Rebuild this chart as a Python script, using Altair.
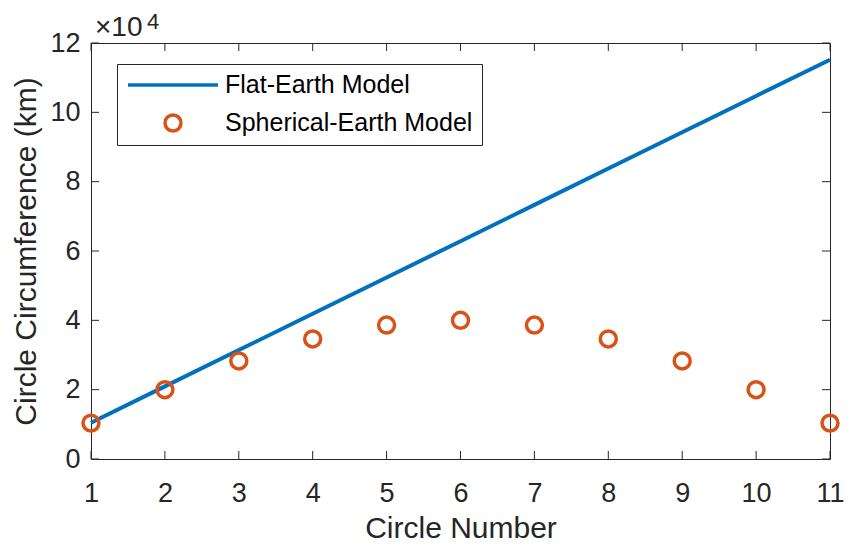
import altair as alt
import pandas as pd

# ---- data ----
circle_number = [1, 2, 3, 4, 5, 6, 7, 8, 9, 10, 11]
flat_km = [10470, 20940, 31420, 41890, 52360, 62830, 73300, 83780, 94250, 104720, 115190]
spherical_km = [10350, 20000, 28280, 34640, 38640, 40000, 38640, 34640, 28280, 20000, 10350]
x_ticks = [1, 2, 3, 4, 5, 6, 7, 8, 9, 10, 11]
y_ticks = [0, 20000, 40000, 60000, 80000, 100000, 120000]
series_names = ["Flat-Earth Model", "Spherical-Earth Model"]
series_colors = ["#0072BD", "#D95319"]
exponent_base = ["×10"]
exponent_power = ["4"]

W, H = 739, 416
AX = "#262626"
FONT = "Liberation Sans"

flat_df = pd.DataFrame({"n": circle_number, "c": flat_km, "series": series_names[0]})
sph_df = pd.DataFrame({"n": circle_number, "c": spherical_km, "series": series_names[1]})
xt_df = pd.DataFrame({"n": x_ticks})
yt_df = pd.DataFrame({"c": y_ticks})

xs = alt.Scale(domain=[1, 11], nice=False, zero=False)
ys = alt.Scale(domain=[0, 120000], nice=False, zero=False)

x_axis = alt.Axis(values=x_ticks, title="Circle Number", grid=False, ticks=False, tickSize=0,
                  domain=False, labelFlush=False, labelOverlap=False,
                  labelFont=FONT, labelFontSize=27, labelColor=AX, labelPadding=21,
                  titleFont=FONT, titleFontSize=30, titleColor=AX, titleFontWeight="normal",
                  titlePadding=7)
y_axis = alt.Axis(values=y_ticks, title="Circle Circumference (km)", grid=False, ticks=False,
                  tickSize=0, domain=False, labelFlush=False, labelOverlap=False,
                  labelExpr="datum.value / 10000",
                  labelFont=FONT, labelFontSize=27, labelColor=AX, labelPadding=11,
                  titleFont=FONT, titleFontSize=30, titleColor=AX, titleFontWeight="normal",
                  titlePadding=8)

leg = alt.Legend(title=None, orient="none", legendX=26, legendY=21, direction="vertical",
                 labelFont=FONT, labelFontSize=25, labelColor="#000000", labelOffset=5,
                 labelLimit=500, symbolStrokeWidth=3.5, clipHeight=24, rowPadding=13,
                 padding=9, strokeColor=AX, fillColor="white", symbolOffset=0)

X = alt.X("n:Q", scale=xs, axis=x_axis)
Y = alt.Y("c:Q", scale=ys, axis=y_axis)

line = alt.Chart(flat_df).mark_line(color=series_colors[0], strokeWidth=4).encode(x=X, y=Y)

pts = alt.Chart(sph_df).mark_point(filled=False, strokeWidth=3.5, opacity=1).encode(
    x=X, y=Y,
    color=alt.Color("series:N", scale=alt.Scale(domain=series_names, range=series_colors), legend=leg),
    shape=alt.Shape("series:N", scale=alt.Scale(domain=series_names, range=["stroke", "circle"]), legend=leg),
    size=alt.Size("series:O", scale=alt.Scale(domain=series_names, range=[8100, 255], padding=0), legend=leg),
)

xt_bottom = alt.Chart(xt_df).mark_rule(color=AX, strokeWidth=1).encode(
    x=X, y=alt.value(H), y2=alt.value(H - 8))
xt_top = alt.Chart(xt_df).mark_rule(color=AX, strokeWidth=1).encode(
    x=X, y=alt.value(0), y2=alt.value(8))
yt_left = alt.Chart(yt_df).mark_rule(color=AX, strokeWidth=1).encode(
    y=Y, x=alt.value(0), x2=alt.value(8))
yt_right = alt.Chart(yt_df).mark_rule(color=AX, strokeWidth=1).encode(
    y=Y, x=alt.value(W - 8), x2=alt.value(W))

exp_base = alt.Chart(pd.DataFrame({"t": exponent_base})).mark_text(
    align="left", baseline="alphabetic", font=FONT, fontSize=28, color=AX).encode(
    x=alt.value(4), y=alt.value(-7), text="t:N")
exp_pow = alt.Chart(pd.DataFrame({"t": exponent_power})).mark_text(
    align="left", baseline="alphabetic", font=FONT, fontSize=22, color=AX).encode(
    x=alt.value(56), y=alt.value(-14), text="t:N")

chart = alt.layer(line, xt_bottom, xt_top, yt_left, yt_right, pts, exp_base, exp_pow).properties(
    width=W, height=H,
    autosize=alt.AutoSizeParams(type="none"),
    padding={"left": 83, "top": 35, "right": 14, "bottom": 91},
    background="white",
).configure_view(stroke=AX, strokeWidth=1)

chart.save("out.html", embed_options={"renderer": "svg", "actions": False})
